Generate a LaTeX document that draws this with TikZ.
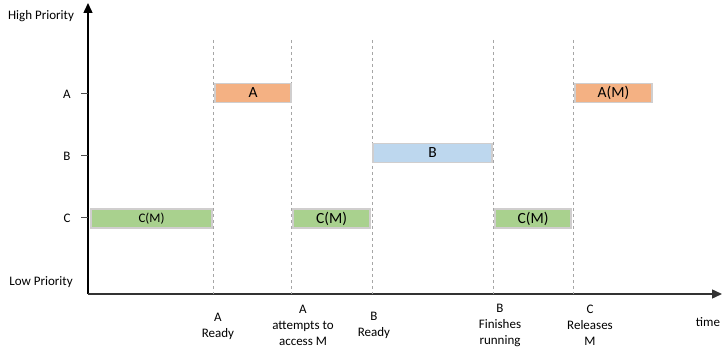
\documentclass[tikz,border=0pt]{standalone}
\usepackage{fontspec}
\setmainfont{Carlito}
\usetikzlibrary{arrows.meta,positioning}
\definecolor{barorange}{HTML}{F4B183}
\definecolor{barblue}{HTML}{BDD7EE}
\definecolor{bargreen}{HTML}{A9D18E}
\definecolor{barline}{HTML}{D0CECE}
\tikzset{
  axis/.style={line width=1.4pt, -{Triangle[length=10pt,width=9pt]}},
  guide/.style={draw=gray!70, dashed, line width=0.6pt},
  tick/.style={draw=black!70, line width=1pt},
  lbl/.style={font=\fontsize{13}{16}\selectfont, inner sep=0pt, align=center},
  bar/.style={draw=barline, line width=1.2pt, minimum height=19pt, inner sep=0pt,
    font=\fontsize{15.5}{16}\selectfont},
}
\begin{document}
\begin{tikzpicture}[x=1pt,y=-1pt]
    \useasboundingbox (0,0) rectangle (728,358);
    % axes
    \coordinate (origin) at (88,294);
    \coordinate (ytop) at (88,3);
    \coordinate (xend) at (722,294);
    \draw[axis] (origin) -- (ytop);
    \draw[axis, black!80] (origin) -- (xend);

    % priority levels
    \node[lbl] (high) at (41,16) {High Priority};
    \node[lbl] (low) at (41,282) {Low Priority};
    \node[lbl] (prioA) at (67,94) {A};
    \node[lbl] (prioB) at (67,156) {B};
    \node[lbl] (prioC) at (67,218) {C};
    \foreach \p/\y in {A/94,B/156,C/218} {
        \coordinate (tick\p) at (81,\y);
        \draw[tick] (tick\p) -- (tick\p -| origin);
    }

    % event times
    \foreach \n/\x in {aready/213,aaccess/291,bready/372,bdone/493,crel/573} {
        \coordinate (\n) at (\x,40);
        \draw[guide] (\n) -- (\n |- origin);
    }

    % running tasks
    \node[bar, fill=bargreen, minimum width=121pt, font=\fontsize{13}{13}\selectfont] (run1) at (151.5,218.5) {C(M)};
    \node[bar, fill=barorange, minimum width=76pt] (run2) at (253,93) {A};
    \node[bar, fill=bargreen, minimum width=77pt] (run3) at (331.5,218.5) {C(M)};
    \node[bar, fill=barblue, minimum width=119pt] (run4) at (432.5,153) {B};
    \node[bar, fill=bargreen, minimum width=76pt] (run5) at (533,218.5) {C(M)};
    \node[bar, fill=barorange, minimum width=77pt] (run6) at (613.5,93) {A(M)};

    % event labels
    \node[lbl, anchor=north] (evA) at (218,313) {A\\Ready};
    \node[lbl, anchor=north] (evAM) at (303,305) {A\\attempts to\\access M};
    \node[lbl, anchor=north] (evB) at (374,312) {B\\Ready};
    \node[lbl, anchor=north] (evBF) at (500,304) {B\\Finishes\\running};
    \node[lbl, anchor=north] (evC) at (590,305) {C\\Releases\\M};
    \node[lbl] (time) at (708,322) {time};
\end{tikzpicture}
\end{document}
